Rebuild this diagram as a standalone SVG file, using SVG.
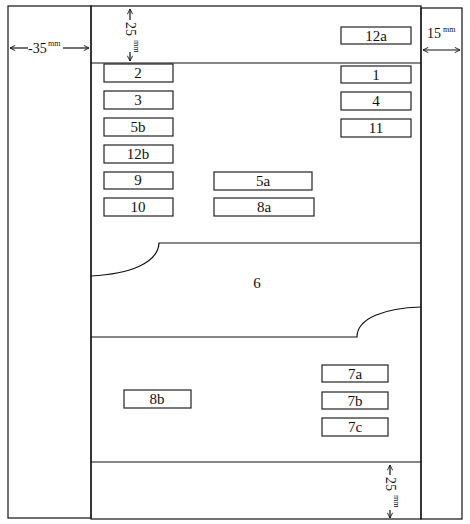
<svg xmlns="http://www.w3.org/2000/svg" width="470" height="524" viewBox="0 0 470 524">
<style>
.ln{fill:none;stroke:#111;stroke-width:1.2}
.bx{fill:#fff;stroke:#222;stroke-width:1.2}
.t{font-family:"Liberation Serif","Times New Roman",serif;font-size:15px;fill:#111;text-anchor:middle}
.d{font-family:"Liberation Serif","Times New Roman",serif;font-size:14px;fill:#111}
.s{font-family:"Liberation Serif","Times New Roman",serif;font-size:8px;fill:#111}
</style>
<defs>
<marker id="ah" viewBox="0 0 8 8" refX="7" refY="4" markerWidth="7" markerHeight="7" orient="auto-start-reverse" markerUnits="userSpaceOnUse">
<path d="M1,1 L7,4 L1,7" fill="none" stroke="#111" stroke-width="1"/>
</marker>
</defs>
<rect width="470" height="524" fill="#fff"/>
<g id="frame">
<rect class="ln" x="8" y="6" width="83" height="512"/>
<rect class="ln" x="91" y="6" width="330" height="513"/>
<rect class="ln" x="421" y="8" width="41" height="511"/>
<line class="ln" x1="91" y1="63" x2="421" y2="63"/>
<line class="ln" x1="91" y1="462" x2="421" y2="462"/>
</g>
<g id="node-6">
<path class="ln" d="M91,276 C130,274 158,263 159,243 L421,243"/>
<path class="ln" d="M91,337 L357,337 C357,318 385,308 421,307"/>
<text class="t" x="257" y="288">6</text>
</g>
<g id="node-12a"><rect class="bx" x="341" y="27" width="70" height="17"/><text class="t" x="376" y="41">12a</text></g>
<g id="node-1"><rect class="bx" x="341" y="66" width="70" height="17"/><text class="t" x="376" y="80">1</text></g>
<g id="node-4"><rect class="bx" x="341" y="92" width="70" height="18"/><text class="t" x="376" y="106">4</text></g>
<g id="node-11"><rect class="bx" x="341" y="119" width="70" height="18"/><text class="t" x="376" y="133">11</text></g>
<g id="node-2"><rect class="bx" x="104" y="64" width="69" height="18"/><text class="t" x="138" y="78">2</text></g>
<g id="node-3"><rect class="bx" x="104" y="91" width="69" height="18"/><text class="t" x="138" y="105">3</text></g>
<g id="node-5b"><rect class="bx" x="104" y="118" width="69" height="18"/><text class="t" x="138" y="132">5b</text></g>
<g id="node-12b"><rect class="bx" x="104" y="145" width="69" height="18" stroke="#666"/><text class="t" x="138" y="159">12b</text></g>
<g id="node-9"><rect class="bx" x="104" y="172" width="69" height="17"/><text class="t" x="138" y="185">9</text></g>
<g id="node-10"><rect class="bx" x="104" y="198" width="69" height="18"/><text class="t" x="138" y="212">10</text></g>
<g id="node-5a"><rect class="bx" x="214" y="172" width="98" height="18"/><text class="t" x="263" y="186">5a</text></g>
<g id="node-8a"><rect class="bx" x="214" y="198" width="100" height="18"/><text class="t" x="264" y="212">8a</text></g>
<g id="node-7a"><rect class="bx" x="322" y="365" width="66" height="17"/><text class="t" x="355" y="379">7a</text></g>
<g id="node-7b"><rect class="bx" x="322" y="392" width="66" height="17"/><text class="t" x="355" y="406">7b</text></g>
<g id="node-7c"><rect class="bx" x="322" y="418" width="66" height="18"/><text class="t" x="355" y="432">7c</text></g>
<g id="node-8b"><rect class="bx" x="124" y="390" width="67" height="18"/><text class="t" x="157" y="404">8b</text></g>
<g id="connectors">
<line class="ln" x1="10" y1="48" x2="28" y2="48" marker-start="url(#ah)"/>
<line class="ln" x1="63" y1="48" x2="89" y2="48" marker-end="url(#ah)"/>
<line class="ln" x1="130" y1="9" x2="130" y2="20" marker-start="url(#ah)"/>
<line class="ln" x1="130" y1="52" x2="130" y2="61" marker-end="url(#ah)"/>
<line class="ln" x1="423" y1="50" x2="460" y2="50" marker-start="url(#ah)" marker-end="url(#ah)"/>
<line class="ln" x1="390" y1="465" x2="390" y2="475" marker-start="url(#ah)"/>
<line class="ln" x1="390" y1="510" x2="390" y2="518" marker-end="url(#ah)"/>
</g>
<g id="labels">
<text class="d" x="28" y="53">-35</text>
<text class="s" x="48" y="46">mm</text>
<text class="d" transform="translate(126,22) rotate(90)">25</text>
<text class="s" transform="translate(134,40) rotate(90)">mm</text>
<text class="d" x="427" y="38">15</text>
<text class="s" x="443" y="32">mm</text>
<text class="d" transform="translate(386,477) rotate(90)">25</text>
<text class="s" transform="translate(394,495) rotate(90)">mm</text>
</g>
</svg>
